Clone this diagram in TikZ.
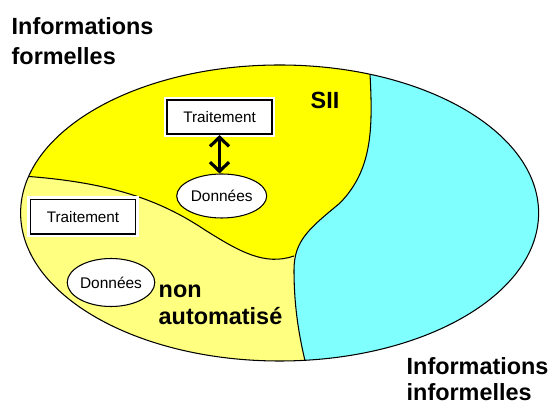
\documentclass[tikz,border=0pt]{standalone}
\usepackage{fontspec}
\setmainfont{Liberation Sans}
\usetikzlibrary{shapes.geometric,arrows.meta}

\definecolor{jaunesii}{RGB}{255,255,0}
\definecolor{jaunepale}{RGB}{255,255,128}
\definecolor{cyaninfo}{RGB}{128,255,255}

\tikzset{
  zone/.style={draw=black, line width=0.3pt},
  titre/.style={inner sep=0pt, align=left, font=\fontsize{6.66}{8.5}\selectfont\bfseries},
  trtbox/.style={draw=black, fill=white, line width=0.45pt, inner sep=0pt,
    minimum width=10.5mm, minimum height=3.45mm, font=\fontsize{4.35}{5}\selectfont,
    preaction={draw=white, line width=1.8pt}},
  donnees/.style={ellipse, draw=black, fill=white, line width=0.3pt, inner sep=0pt,
    font=\fontsize{4.4}{5}\selectfont},
  dblarrow/.style={line width=0.9pt, {Straight Barb[length=2.6pt,width=5.4pt]}-{Straight Barb[length=2.6pt,width=5.4pt]}}
}

\begin{document}
\begin{tikzpicture}[scale=0.1]
  \useasboundingbox (0,0) rectangle (54.9,-40.3);
  % zones dans l'ellipse
  \begin{scope}
    \clip (27.96,-21.3) ellipse (25.9 and 14.8);
    \fill [jaunepale] (0,0) rectangle (56,-41);
    \fill [jaunesii] (1,-17.6) -- (2.2,-17.6) .. controls (11,-18.2) and (16,-20) .. (20.5,-23)
      .. controls (24,-25.2) and (26.5,-26.6) .. (29.4,-25.6) -- (40,-25.6) -- (40,-5) -- (1,-5) -- cycle;
    \draw [zone] (2.2,-17.6) .. controls (11,-18.2) and (16,-20) .. (20.5,-23)
      .. controls (24,-25.2) and (26.5,-26.6) .. (29.4,-25.6);
    \fill [cyaninfo] (37,-5) -- (37,-7.4) .. controls (37.3,-13) and (37.2,-17) .. (34,-20.3)
      .. controls (31,-22.8) and (29.4,-24) .. (29.4,-27)
      .. controls (29.4,-31) and (30,-34) .. (30.6,-36.5) -- (56,-36.5) -- (56,-5) -- cycle;
    \draw [zone] (37,-5) -- (37,-7.4) .. controls (37.3,-13) and (37.2,-17) .. (34,-20.3)
      .. controls (31,-22.8) and (29.4,-24) .. (29.4,-27)
      .. controls (29.4,-31) and (30,-34) .. (30.6,-36.5);
  \end{scope}
  \draw [zone] (27.96,-21.3) ellipse (25.9 and 14.8);

  % traitements et donnees
  \node [trtbox] (trt1) at (21.95,-11.7) {Traitement};
  \node [donnees, minimum width=9mm, minimum height=4.4mm] (don1) at (22.17,-19.6) {Données};
  \draw [dblarrow] (trt1.south) -- (trt1.south |- don1.north);
  \node [trtbox] (trt2) at (8.3,-21.67) {Traitement};
  \node [donnees, minimum width=8.1mm, minimum height=4.8mm] (don2) at (11.1,-28.25) {Données};

  % libelles
  \node [titre, anchor=north west] (formel) at (1.1,-1.67) {Informations\\formelles};
  \node [titre, anchor=north west] (sii) at (31.0,-9.17) {SII};
  \node [titre, anchor=north west, font=\fontsize{6.66}{7.6}\selectfont\bfseries] (nonauto) at (15.8,-28.4) {non\\automatisé};
  \node [titre, anchor=north west, font=\fontsize{6.66}{7.4}\selectfont\bfseries] (informel) at (40.6,-35.7) {Informations\\informelles};
\end{tikzpicture}
\end{document}
